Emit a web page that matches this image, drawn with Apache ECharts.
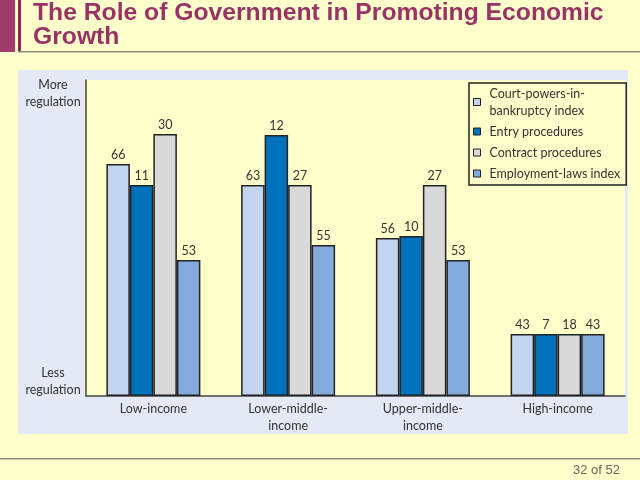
<!DOCTYPE html>
<html>
<head>
<meta charset="utf-8">
<script src="https://cdn.jsdelivr.net/npm/echarts@6/dist/echarts.min.js"></script>
<style>
html,body{margin:0;padding:0;background:#ffffcc;}
#chart{width:640px;height:480px;}
</style>
</head>
<body>
<div id="chart"></div>
<script>
// Categories (income groups)
const categories = ['Low-income', 'Lower-middle-\nincome', 'Upper-middle-\nincome', 'High-income'];
// Series names
const seriesNames = ['Court-powers-in-\nbankruptcy index', 'Entry procedures', 'Contract procedures', 'Employment-laws index'];
// Relative bar heights (regulation level; 0 = less, 316 = more)
const courtHeights = [232, 211, 158, 62];
const entryHeights = [211, 261, 160, 62];
const contractHeights = [262, 211, 211, 62];
const employmentHeights = [136, 151, 136, 62];
// Printed value labels
const courtLabels = [66, 63, 56, 43];
const entryLabels = [11, 12, 10, 7];
const contractLabels = [30, 27, 27, 18];
const employmentLabels = [53, 55, 53, 43];
// Y-axis end labels
const yAxisLabels = ['Less\nregulation', 'More\nregulation'];

const colors = ['#c3d5ee', '#0071bb', '#d9d9d9', '#85aadc'];
const heights = [courtHeights, entryHeights, contractHeights, employmentHeights];
const labels = [courtLabels, entryLabels, contractLabels, employmentLabels];

const font = 'Lato';
const chart = echarts.init(document.getElementById('chart'), null, {renderer: 'canvas'});

const series = seriesNames.map((name, i) => ({
  name: name,
  type: 'bar',
  barWidth: 23.5,
  barGap: '0%',
  data: heights[i],
  itemStyle: {color: colors[i], borderColor: '#222', borderWidth: 1.5},
  label: {
    show: true,
    position: 'top',
    distance: 3,
    color: '#333',
    fontFamily: font,
    fontSize: 12.5,
    formatter: p => String(labels[i][p.dataIndex])
  },
  emphasis: {disabled: true}
}));

const option = {
  backgroundColor: '#ffffcc',
  animation: false,
  title: {
    text: 'The Role of Government in Promoting Economic\nGrowth',
    left: 33,
    top: 1,
    padding: 0,
    textStyle: {
      fontFamily: 'Liberation Sans',
      fontWeight: 'bold',
      fontSize: 24.7,
      lineHeight: 24,
      color: '#993366'
    }
  },
  legend: {
    orient: 'vertical',
    left: 469,
    top: 83,
    padding: [2, 6, 3, 4],
    itemWidth: 7,
    itemHeight: 7,
    itemGap: 4,
    icon: 'rect',
    backgroundColor: '#ffffcc',
    borderColor: '#222',
    borderWidth: 1.5,
    itemStyle: {borderColor: '#222', borderWidth: 1},
    textStyle: {
      fontFamily: font,
      fontSize: 12.5,
      color: '#333',
      lineHeight: 17,
      padding: [0, 0, 0, 4]
    },
    selectedMode: false,
    data: seriesNames
  },
  grid: {
    left: 86,
    right: 15,
    top: 80,
    bottom: 84,
    show: true,
    backgroundColor: '#ffffcc',
    borderWidth: 0
  },
  xAxis: {
    type: 'category',
    data: categories,
    axisLine: {show: true, lineStyle: {color: '#444', width: 1.5}},
    axisTick: {show: false},
    axisLabel: {
      margin: 4,
      color: '#333',
      fontFamily: font,
      fontSize: 12.5,
      lineHeight: 17,
      interval: 0
    }
  },
  yAxis: {
    type: 'value',
    min: 0,
    max: 316,
    axisLine: {show: true, lineStyle: {color: '#444', width: 1.5}},
    axisTick: {show: false},
    axisLabel: {show: false},
    splitLine: {show: false}
  },
  graphic: [
    {type: 'rect', z: -10, shape: {x: 18, y: 70, width: 610, height: 364}, style: {fill: '#e5e8f5'}, silent: true},
    {type: 'rect', shape: {x: 0, y: 0, width: 15, height: 52}, style: {fill: '#9e3a6c'}, silent: true},
    {type: 'rect', shape: {x: 18, y: 0, width: 3, height: 52}, style: {fill: '#8a2a58'}, silent: true},
    {type: 'rect', shape: {x: 18, y: 51, width: 622, height: 1.5}, style: {fill: '#8a8a80'}, silent: true},
    {type: 'rect', shape: {x: 0, y: 458, width: 640, height: 1.5}, style: {fill: '#8a8a80'}, silent: true},
    {type: 'text', x: 620, y: 470, style: {text: '32 of 52', fill: '#666', font: '13px "Liberation Sans"', textAlign: 'right', textVerticalAlign: 'middle'}, silent: true},
    {type: 'text', x: 53, y: 76, style: {text: yAxisLabels[1], fill: '#333', font: '12.5px Lato', lineHeight: 17, textAlign: 'center'}, silent: true},
    {type: 'text', x: 53, y: 364, style: {text: yAxisLabels[0], fill: '#333', font: '12.5px Lato', lineHeight: 17, textAlign: 'center'}, silent: true}
  ],
  series: series
};
chart.setOption(option);
</script>
</body>
</html>
